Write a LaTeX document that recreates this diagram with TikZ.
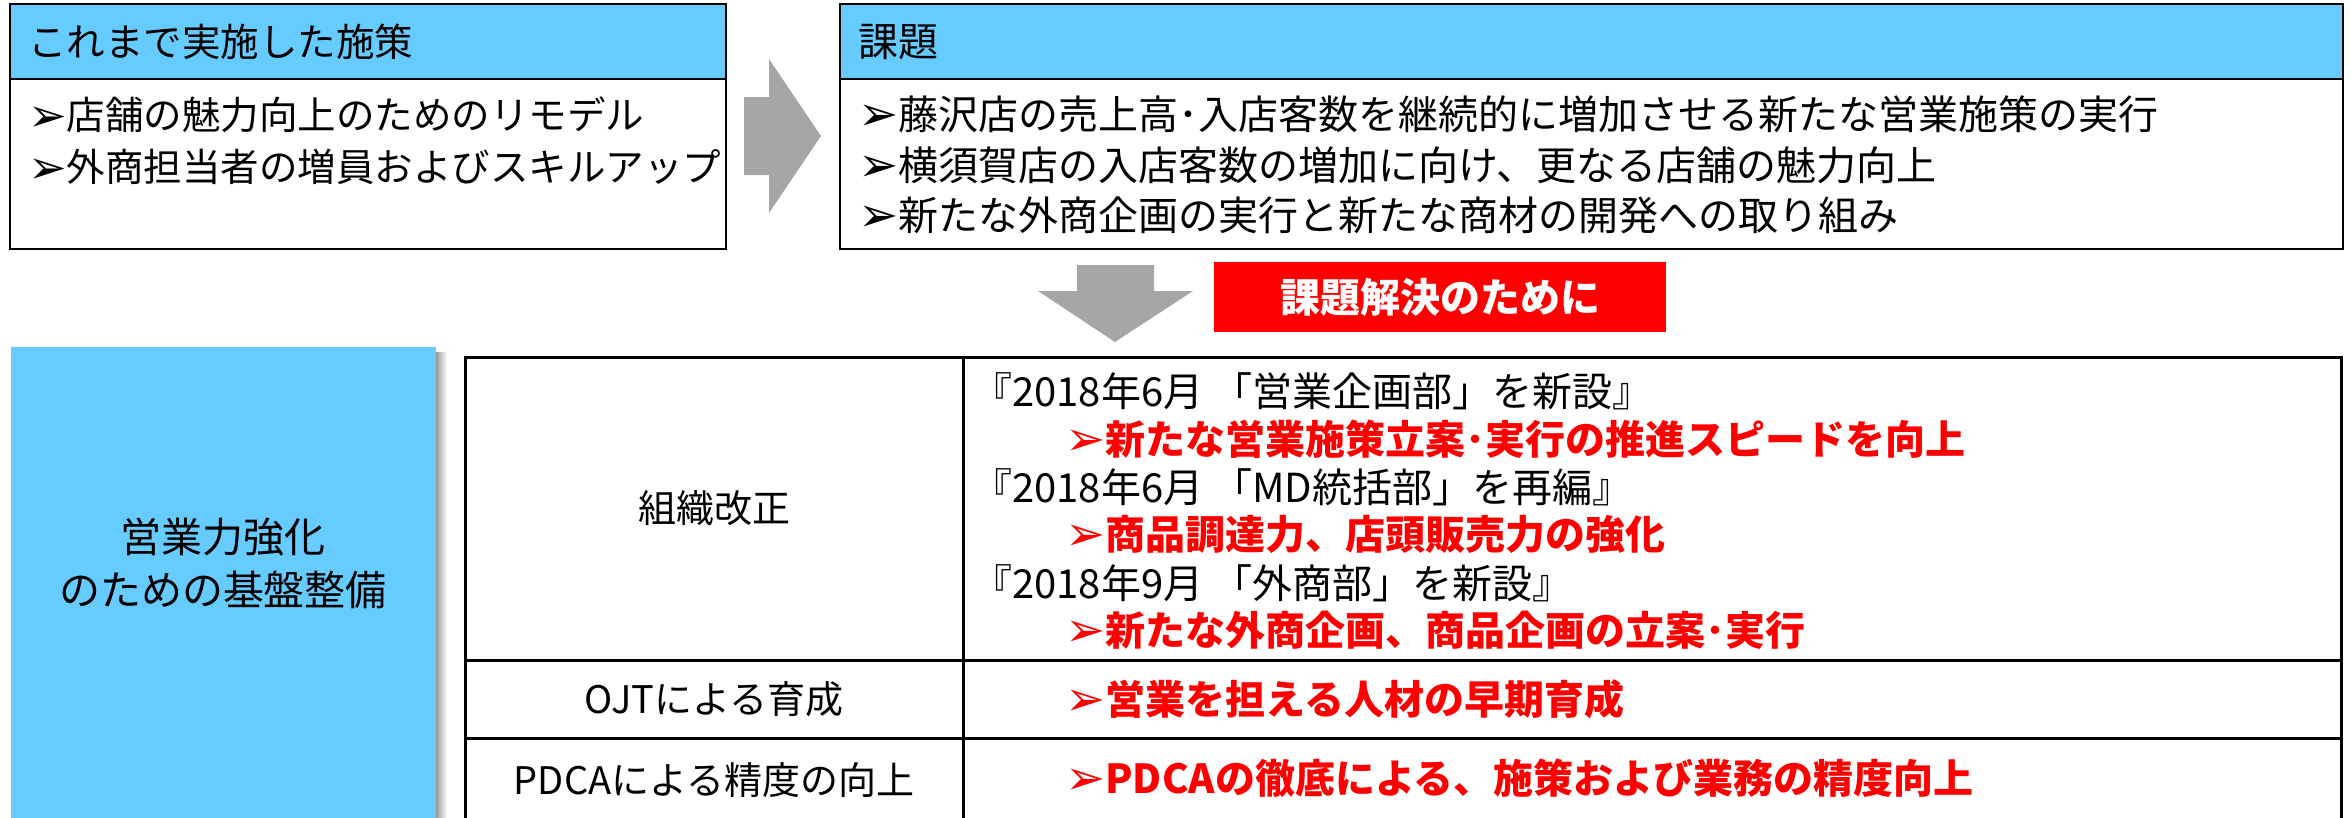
\documentclass[tikz,border=0pt]{standalone}
\usepackage{fontspec}
\setmainfont{Noto Sans CJK JP}
\newfontfamily\symfont{DejaVu Sans}
\definecolor{hdrblue}{HTML}{66CCFF}
\definecolor{arrgray}{HTML}{A6A6A6}
\definecolor{myred}{HTML}{FF0000}
\newcommand\bul{\raisebox{-0.04em}{\scalebox{1.2}{\symfont ➢}}}
\begin{document}
\begin{tikzpicture}[x=1pt,y=-1pt,
  frame/.style={draw=black,line width=2.6pt},
  tline/.style={draw=black,line width=3pt},
  txt/.style={anchor=west,inner sep=0pt,font=\fontsize{40}{46}\selectfont},
  ltxt/.style={anchor=west,inner sep=0pt,font=\fontsize{38.5}{46}\selectfont},
  rtxt/.style={anchor=west,inner sep=0pt,text=myred,font=\fontsize{40}{46}\selectfont\bfseries},
  ctxt/.style={anchor=center,inner sep=0pt,font=\fontsize{38}{44}\selectfont},
  btxt/.style={anchor=center,inner sep=0pt,font=\fontsize{41}{50}\selectfont,align=center}
]
\useasboundingbox (0,0) rectangle (2351,817);
\fill[white] (0,0) rectangle (2351,817);

% top left box
\fill[hdrblue] (10,4) rectangle (726,79);
\draw[frame] (10,4) rectangle (726,249);
\draw[frame] (10,79) -- (726,79);
\node[ltxt] (h1) at (28,42) {これまで実施した施策};
\node[ltxt] (l1a) at (28,115) {\bul 店舗の魅力向上のためのリモデル};
\node[ltxt] (l1b) at (28,167) {\bul 外商担当者の増員およびスキルアップ};

% right arrow
\fill[arrgray] (744,97) -- (769,97) -- (769,59) -- (821,136) -- (769,213) -- (769,175) -- (744,175) -- cycle;

% top right box
\fill[hdrblue] (840,4) rectangle (2343,79);
\draw[frame] (840,4) rectangle (2343,249);
\draw[frame] (840,79) -- (2343,79);
\node[txt] (h2) at (858,42) {課題};
\node[txt] (l2a) at (858,114) {\bul 藤沢店の売上高･入店客数を継続的に増加させる新たな営業施策の実行};
\node[txt] (l2b) at (858,165) {\bul 横須賀店の入店客数の増加に向け、更なる店舗の魅力向上};
\node[txt] (l2c) at (858,215) {\bul 新たな外商企画の実行と新たな商材の開発への取り組み};

% down arrow
\fill[arrgray] (1077,265) -- (1154,265) -- (1154,291) -- (1193,291) -- (1115,342) -- (1038,291) -- (1077,291) -- cycle;

% red label
\node[fill=myred,minimum width=452pt,minimum height=70pt,inner sep=0pt,text=white,font=\fontsize{40}{46}\selectfont\bfseries] (red) at (1440,297) {課題解決のために};

% blue left box with shadow
\shade[left color=black!40,right color=white] (436,352) rectangle (447,830);
\fill[hdrblue] (11,347) rectangle (436,830);
\node[btxt] (b1) at (223,537) {営業力強化};
\node[btxt] (b2) at (223,590) {のための基盤整備};

% table
\begin{scope}
\clip (0,0) rectangle (2351,817);
\draw[tline] (465,830) -- (465,357) -- (2341,357) -- (2341,830);
\draw[tline] (963,357) -- (963,830);
\draw[tline] (465,660) -- (2341,660);
\draw[tline] (465,738) -- (2341,738);
\end{scope}

\node[ctxt] (c1) at (714,508) {組織改正};
\node[ctxt] (c2) at (714,699) {OJTによる育成};
\node[ctxt] (c3) at (714,780) {PDCAによる精度の向上};

\node[txt] (r1) at (972,391) {『2018年6月 「営業企画部」を新設』};
\node[rtxt] (r2) at (1065,439) {\bul 新たな営業施策立案･実行の推進スピードを向上};
\node[txt] (r3) at (972,487) {『2018年6月 「MD統括部」を再編』};
\node[rtxt] (r4) at (1065,534) {\bul 商品調達力、店頭販売力の強化};
\node[txt] (r5) at (972,583) {『2018年9月 「外商部」を新設』};
\node[rtxt] (r6) at (1065,630) {\bul 新たな外商企画、商品企画の立案･実行};
\node[rtxt] (r7) at (1065,699) {\bul 営業を担える人材の早期育成};
\node[rtxt] (r8) at (1065,778) {\bul PDCAの徹底による、施策および業務の精度向上};
\end{tikzpicture}
\end{document}
